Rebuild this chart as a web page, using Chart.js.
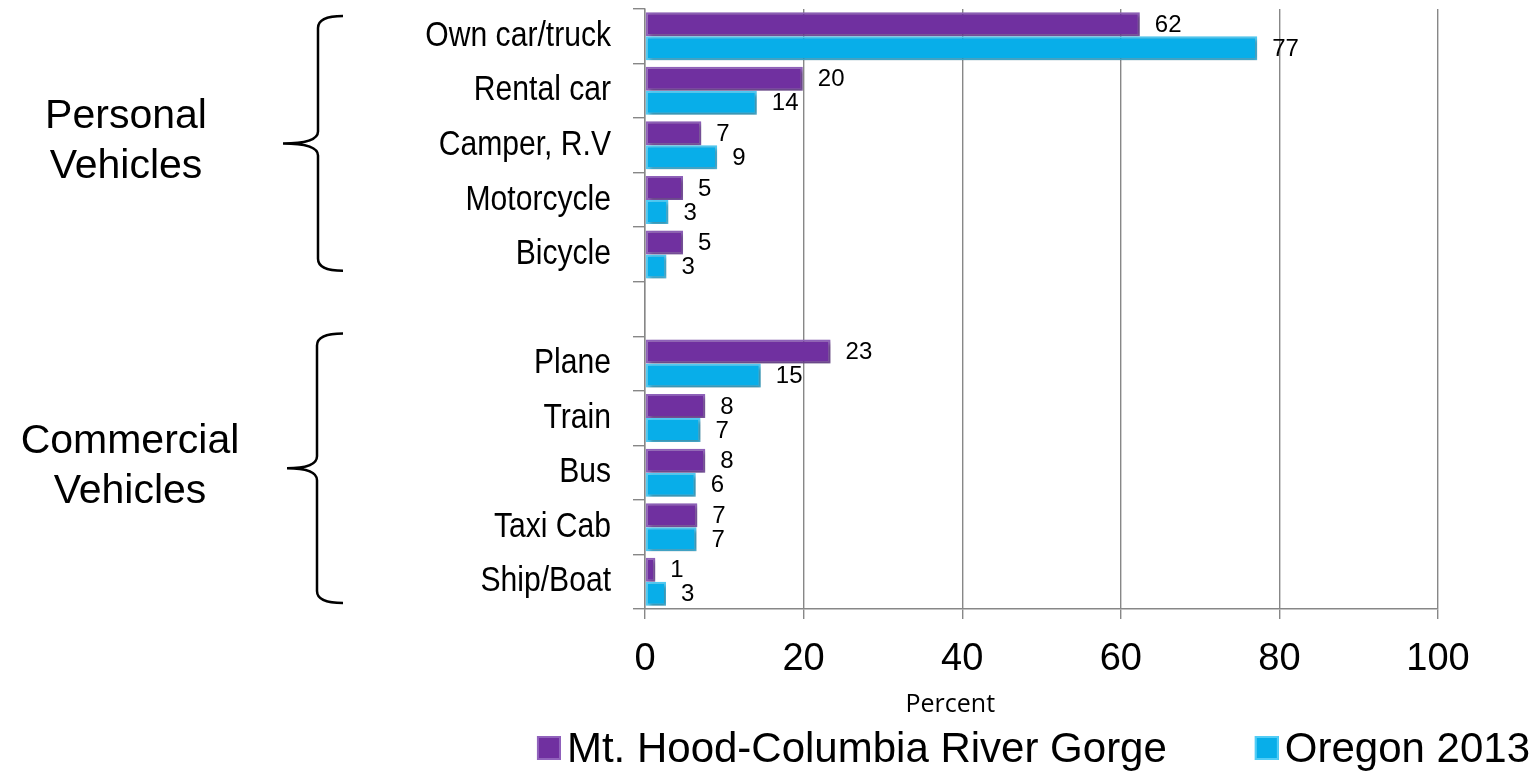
<!DOCTYPE html>
<html><head><meta charset="utf-8">
<script src="https://cdn.jsdelivr.net/npm/chart.js@4.4.0/dist/chart.umd.min.js"></script>
<style>html,body{margin:0;padding:0;background:#fff;overflow:hidden}#wrap{position:relative;width:1537px;height:776px}</style>
</head><body><div id="wrap"><canvas id="c" width="1537" height="776"></canvas></div>
<script>
const categories = ['Own car/truck','Rental car','Camper, R.V','Motorcycle','Bicycle','','Plane','Train','Bus','Taxi Cab','Ship/Boat'];
const mtHood = [62.4, 19.9, 7.1, 4.8, 4.8, null, 23.4, 7.6, 7.6, 6.6, 1.3];
const oregon = [77.2, 14.1, 9.1, 2.95, 2.7, null, 14.6, 7.0, 6.4, 6.5, 2.65];
const seriesNames = ['Mt. Hood-Columbia River Gorge','Oregon 2013'];
const xTicks = [0, 20, 40, 60, 80, 100];
const axisTitle = 'Percent';
const groupNames = [['Personal','Vehicles'], ['Commercial','Vehicles']];
const groupFirst = [0, 6];
const groupLast = [4, 10];

const PURPLE = '#7030A0', PURPLE_EDGE = '#9163BC';
const CYAN = '#08AEE9', CYAN_EDGE = '#52CDF6';
const GRID = '#878787';
const ARIAL = '"Liberation Sans", Arial, sans-serif';

const shadowPlugin = {
  id: 'barShadow',
  beforeDatasetsDraw(chart) {
    const ctx = chart.ctx; ctx.save();
    ctx.shadowColor = 'rgba(0,0,0,0.35)'; ctx.shadowBlur = 4; ctx.shadowOffsetX = 2; ctx.shadowOffsetY = 2;
  },
  afterDatasetsDraw(chart) { chart.ctx.restore(); }
};

const valueLabels = {
  id: 'valueLabels',
  afterDatasetsDraw(chart) {
    const ctx = chart.ctx; ctx.save();
    ctx.font = '24px ' + ARIAL; ctx.fillStyle = '#000'; ctx.textBaseline = 'middle'; ctx.textAlign = 'left';
    chart.data.datasets.forEach((ds, i) => {
      chart.getDatasetMeta(i).data.forEach((bar, j) => {
        const v = ds.data[j]; if (v == null) return;
        ctx.fillText(String(Math.round(v)), bar.x + 15, bar.y + 1);
      });
    });
    ctx.restore();
  }
};

// condense the category labels horizontally (narrow-font look), anchored at their right edge
const condenseY = {
  id: 'condenseY',
  beforeDraw(chart) {
    const s = chart.scales.y;
    if (s._condensed) return;
    s._condensed = true;
    const orig = Object.getPrototypeOf(s).drawLabels;
    s.drawLabels = function (area) {
      const ctx = this.ctx;
      const ax = this.right - this.options.grid.tickLength - this.options.ticks.padding;
      ctx.save(); ctx.translate(ax, 0); ctx.scale(0.86, 1); ctx.translate(-ax, 0);
      orig.call(this, area);
      ctx.restore();
    };
  }
};

const braces = {
  id: 'braces',
  afterDraw(chart) {
    const ctx = chart.ctx, y = chart.scales.y, x = chart.scales.x;
    const band = y.getPixelForValue(1) - y.getPixelForValue(0);
    ctx.save();
    ctx.strokeStyle = '#000'; ctx.lineWidth = 2.5; ctx.fillStyle = '#000';
    ctx.font = '41px ' + ARIAL; ctx.textAlign = 'center'; ctx.textBaseline = 'middle';
    const cfg = [
      {top: y.getPixelForValue(groupFirst[0]) - band*0.37, bot: y.getPixelForValue(groupLast[0]) + band*0.3, xl: 318, tip: 283, tx: 126},
      {top: y.getPixelForValue(groupFirst[1]) - band*0.55, bot: y.getPixelForValue(groupLast[1]) + band*0.39, xl: 317, tip: 287, tx: 130}
    ];
    cfg.forEach((c, k) => {
      const mid = (c.top + c.bot) / 2, xr = 343, r = 12;
      ctx.beginPath();
      ctx.moveTo(xr, c.top);
      ctx.quadraticCurveTo(c.xl, c.top, c.xl, c.top + r);
      ctx.lineTo(c.xl, mid - r);
      ctx.quadraticCurveTo(c.xl, mid, c.tip, mid);
      ctx.quadraticCurveTo(c.xl, mid, c.xl, mid + r);
      ctx.lineTo(c.xl, c.bot - r);
      ctx.quadraticCurveTo(c.xl, c.bot, xr, c.bot);
      ctx.stroke();
      const lines = groupNames[k];
      ctx.fillText(lines[0], c.tx, mid - 27);
      ctx.fillText(lines[1], c.tx, mid + 23);
    });
    // axis title
    ctx.font = '25px "Open Sans", sans-serif';
    ctx.fillText(axisTitle, x.getPixelForValue(38.5), 705);
    ctx.restore();
  }
};

const legendPlugin = {
  id: 'customLegend',
  afterDraw(chart) {
    const ctx = chart.ctx, area = chart.chartArea;
    ctx.save();
    ctx.font = '42px ' + ARIAL; ctx.textBaseline = 'middle'; ctx.textAlign = 'left';
    const box = 24, gapText = 6, gapItem = 88, yc = 748;
    const items = chart.data.datasets.map(ds => ({text: ds.label, fill: ds.backgroundColor, edge: ds.borderColor}));
    let total = 0;
    items.forEach((it, i) => { it.w = ctx.measureText(it.text).width; total += box + gapText + it.w + (i ? gapItem : 0); });
    let x = (area.left + area.right) / 2 - 8 - total / 2;
    items.forEach((it, i) => {
      if (i) x += gapItem;
      ctx.fillStyle = it.fill; ctx.fillRect(x, yc - box/2, box, box);
      ctx.strokeStyle = it.edge; ctx.lineWidth = 2; ctx.strokeRect(x + 1, yc - box/2 + 1, box - 2, box - 2);
      x += box + gapText;
      ctx.fillStyle = '#000'; ctx.fillText(it.text, x, yc + 2);
      x += it.w;
    });
    ctx.restore();
  }
};

new Chart(document.getElementById('c'), {
  type: 'bar',
  data: {
    labels: categories,
    datasets: [
      {label: seriesNames[0], data: mtHood, backgroundColor: PURPLE, borderColor: PURPLE_EDGE, borderWidth: 2, borderSkipped: false},
      {label: seriesNames[1], data: oregon, backgroundColor: CYAN, borderColor: CYAN_EDGE, borderWidth: 2, borderSkipped: false}
    ]
  },
  options: {
    indexAxis: 'y',
    responsive: false, animation: false, devicePixelRatio: 1,
    layout: {autoPadding: false, padding: {top: 9, left: 0, right: 0, bottom: 0}},
    datasets: {bar: {categoryPercentage: 0.88, barPercentage: 1.0}},
    plugins: {legend: {display: false}, tooltip: {enabled: false}},
    scales: {
      x: {
        min: 0, max: 100,
        afterBuildTicks: s => { s.ticks = xTicks.map(v => ({value: v})); },
        grid: {color: GRID, lineWidth: 1.4, tickLength: 10},
        border: {color: GRID, width: 1.4},
        ticks: {color: '#000', font: {family: ARIAL, size: 38}, padding: 18, maxRotation: 0},
        afterFit: s => { s.height = 167; s.paddingLeft = 0; s.paddingRight = 0; }
      },
      y: {
        type: 'category', offset: true,
        grid: {offset: true, drawOnChartArea: false, drawTicks: true, tickLength: 12, color: GRID, lineWidth: 1.4},
        border: {color: GRID, width: 1.4},
        ticks: {color: '#000', font: {family: ARIAL, size: 35}, padding: 22, autoSkip: false},
        afterFit: s => { s.width = 645; s.paddingTop = 0; s.paddingBottom = 0; }
      },
      yR: {
        type: 'linear', position: 'right', display: true,
        grid: {display: false}, border: {display: false}, ticks: {display: false},
        afterFit: s => { s.width = 99; s.paddingTop = 0; s.paddingBottom = 0; }
      }
    }
  },
  plugins: [shadowPlugin, valueLabels, condenseY, braces, legendPlugin]
});
</script>
</body></html>
